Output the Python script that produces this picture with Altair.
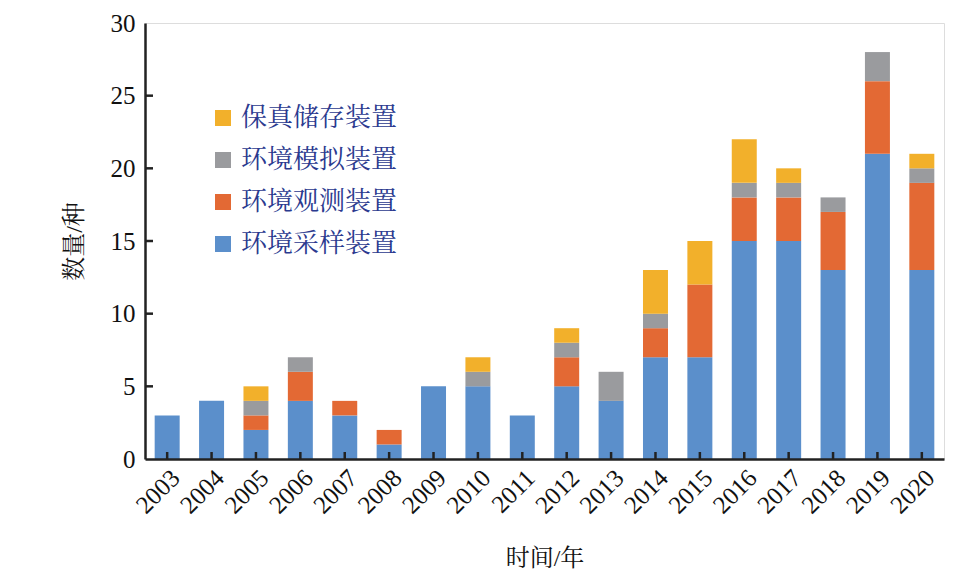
import altair as alt
import pandas as pd

years = [str(y) for y in range(2003, 2021)]
sampling = [3, 4, 2, 4, 3, 1, 5, 5, 3, 5, 4, 7, 7, 15, 15, 13, 21, 13]   # 环境采样装置
observe = [0, 0, 1, 2, 1, 1, 0, 0, 0, 2, 0, 2, 5, 3, 3, 4, 5, 6]      # 环境观测装置
simulate = [0, 0, 1, 1, 0, 0, 0, 1, 0, 1, 2, 1, 0, 1, 1, 1, 2, 1]     # 环境模拟装置
storage = [0, 0, 1, 0, 0, 0, 0, 1, 0, 1, 0, 3, 3, 3, 1, 0, 0, 1]      # 保真储存装置

series = ["环境采样装置", "环境观测装置", "环境模拟装置", "保真储存装置"]
colors = ["#5B8FCB", "#E36934", "#9A9B9E", "#F2B02B"]
y_ticks = [0, 5, 10, 15, 20, 25, 30]

rows = []
for i, y in enumerate(years):
    for k, vals in enumerate([sampling, observe, simulate, storage]):
        rows.append({"year": y, "series": series[k], "value": vals[i], "ord": k})
df = pd.DataFrame(rows)

FONT = "Liberation Serif, Noto Serif CJK SC, Noto Sans CJK SC"
W, H = 799, 436

xscale = alt.Scale(domain=years, paddingInner=0.437, paddingOuter=0.218)
yscale = alt.Scale(domain=[0, 30], nice=False)

bars = alt.Chart(df).mark_bar().encode(
    x=alt.X("year:N", scale=xscale, sort=years,
            axis=alt.Axis(title="时间/年", labelAngle=-45, labelFontSize=25,
                          labelFont=FONT, labelColor="#111", ticks=False,
                          domainColor="#222", domainWidth=2.5, labelPadding=6,
                          titleFont=FONT, titleFontSize=24, titleFontWeight="normal",
                          titleColor="#111", titleY=87, zindex=1)),
    y=alt.Y("value:Q", stack="zero", scale=yscale,
            axis=alt.Axis(title="数量/种", values=y_ticks, ticks=False, grid=False,
                          labelFontSize=25, labelFont=FONT, labelColor="#111",
                          domainColor="#222", domainWidth=2.5, labelPadding=10,
                          titleFont=FONT, titleFontSize=24, titleFontWeight="normal",
                          titleColor="#111", titleX=-59, titleY=218, zindex=1)),
    color=alt.Color("series:N", scale=alt.Scale(domain=series, range=colors),
                    sort=series[::-1],
                    legend=alt.Legend(title=None, orient="none", legendX=65, legendY=82,
                                      labelFont=FONT, labelFontSize=26, labelColor="#2B3A8F",
                                      symbolType="square", symbolSize=256, symbolStrokeWidth=0,
                                      symbolOpacity=1, rowPadding=16, padding=0,
                                      labelOffset=5, labelLimit=400,
                                      values=series[::-1])),
    order=alt.Order("ord:Q"),
)

ytick_df = pd.DataFrame({"t": y_ticks[1:-1]})
yticks = alt.Chart(ytick_df).mark_rule(color="#222", strokeWidth=2.5).encode(
    y=alt.Y("t:Q", scale=yscale),
    x=alt.value(0), x2=alt.value(8),
)
xtick_df = pd.DataFrame({"year": years})
xticks = alt.Chart(xtick_df).mark_rule(color="#222", strokeWidth=2.5).encode(
    x=alt.X("year:N", scale=xscale, sort=years),
    y=alt.value(H), y2=alt.value(H - 7),
)

chart = alt.layer(bars, yticks, xticks).properties(
    width=W, height=H,
    autosize=alt.AutoSizeParams(type="none"),
    padding={"left": 137, "top": 15, "right": 20, "bottom": 120},
).configure_view(stroke="#222", strokeWidth=2.5).configure(background="white")

chart.save("out.html", embed_options={"renderer": "svg", "actions": False})
